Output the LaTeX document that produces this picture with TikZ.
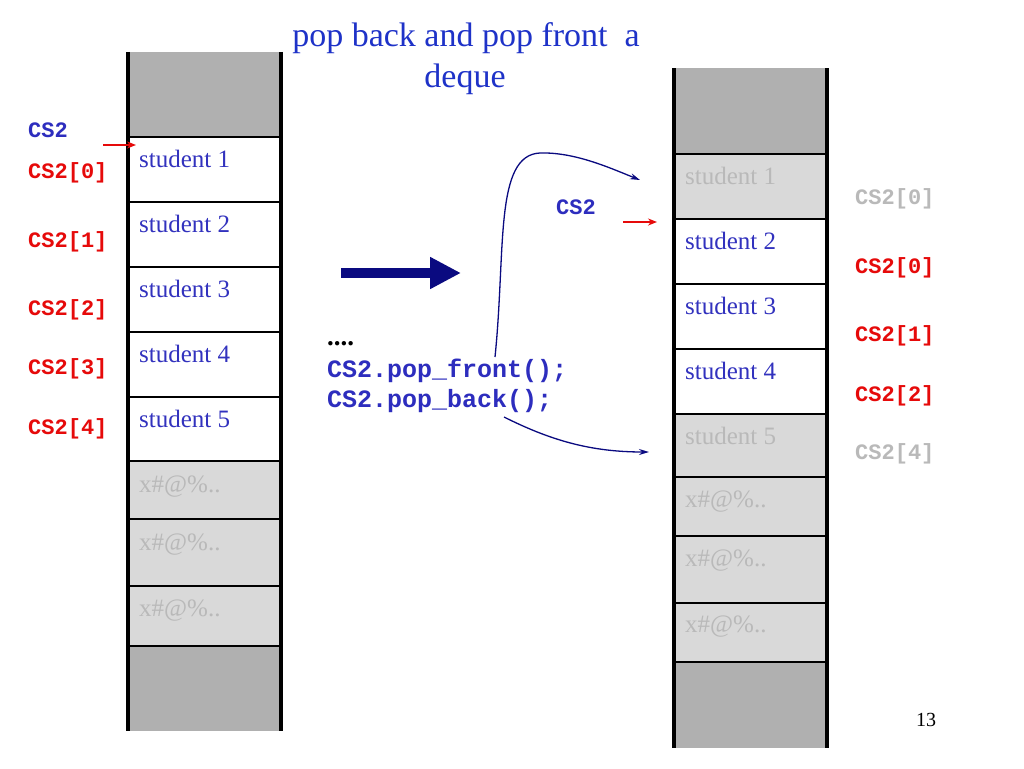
\documentclass[tikz,border=0pt]{standalone}
\usepackage{fontspec}
\setmainfont{Liberation Serif}
\newfontfamily\monofont{Liberation Mono}
\usetikzlibrary{arrows.meta}
\definecolor{titleblue}{RGB}{30,50,200}
\definecolor{textblue}{RGB}{50,50,190}
\definecolor{codeblue}{RGB}{45,45,190}
\definecolor{navy}{RGB}{10,10,128}
\definecolor{ptrred}{RGB}{230,10,10}
\definecolor{dgray}{RGB}{176,176,176}
\definecolor{lgray}{RGB}{217,217,217}
\definecolor{ghost}{RGB}{185,185,185}
\begin{document}
\begin{tikzpicture}[x=1pt,y=-1pt,
  cellbox/.style={anchor=north west, minimum width=153pt, inner sep=0pt, outer sep=0pt},
  celltext/.style={anchor=base west, inner sep=0pt, font=\fontsize{25}{30}\selectfont},
  idxlabel/.style={anchor=base west, inner sep=0pt, font=\monofont\bfseries\fontsize{22}{26}\selectfont},
  codetext/.style={anchor=base west, inner sep=0pt, text=codeblue, font=\monofont\bfseries\fontsize{25}{30}\selectfont},
  sepline/.style={line width=1.8pt, black},
  wall/.style={line width=3.5pt, black},
  ptr/.style={ptrred, line width=2pt, -{Stealth[length=9pt,width=7pt]}},
  popcurve/.style={navy, line width=1.3pt, -{Stealth[length=10pt,width=6pt]}}]
\fill[white] (0,0) rectangle (1024,768);
\useasboundingbox (0,0) rectangle (1024,768);

% left column
\foreach \n/\t/\b/\c in {0/52/137/dgray,1/137/202/white,2/202/267/white,3/267/332/white,4/332/397/white,5/397/461/white,6/461/519/lgray,7/519/586/lgray,8/586/646/lgray,9/646/731/dgray}
  {\node[cellbox, fill=\c, minimum height={\b-\t}] (L\n) at (128,\t) {};}
\foreach \n in {0,...,8} {\draw[sepline] (L\n.south west) -- (L\n.south east);}
\draw[wall] (L0.north west) -- (L9.south west);
\draw[wall] (L0.north east) -- (L9.south east);

% right column
\foreach \n/\t/\b/\c in {0/68/154/dgray,1/154/219/lgray,2/219/284/white,3/284/349/white,4/349/414/white,5/414/477/lgray,6/477/536/lgray,7/536/603/lgray,8/603/662/lgray,9/662/748/dgray}
  {\node[cellbox, fill=\c, minimum height={\b-\t}] (R\n) at (674,\t) {};}
\foreach \n in {0,...,8} {\draw[sepline] (R\n.south west) -- (R\n.south east);}
\draw[wall] (R0.north west) -- (R9.south west);
\draw[wall] (R0.north east) -- (R9.south east);

% left cell texts
\node[celltext, text=textblue] (Lt1) at (139,167) {student 1};
\node[celltext, text=textblue] (Lt2) at (139,232) {student 2};
\node[celltext, text=textblue] (Lt3) at (139,297) {student 3};
\node[celltext, text=textblue] (Lt4) at (139,362) {student 4};
\node[celltext, text=textblue] (Lt5) at (139,427) {student 5};
\node[celltext, text=ghost] (Lt6) at (139,492) {x\#@\%..};
\node[celltext, text=ghost] (Lt7) at (139,550) {x\#@\%..};
\node[celltext, text=ghost] (Lt8) at (139,616) {x\#@\%..};

% right cell texts
\node[celltext, text=ghost] (Rt1) at (685,184) {student 1};
\node[celltext, text=textblue] (Rt2) at (685,249) {student 2};
\node[celltext, text=textblue] (Rt3) at (685,314) {student 3};
\node[celltext, text=textblue] (Rt4) at (685,379) {student 4};
\node[celltext, text=ghost] (Rt5) at (685,444) {student 5};
\node[celltext, text=ghost] (Rt6) at (685,507) {x\#@\%..};
\node[celltext, text=ghost] (Rt7) at (685,566) {x\#@\%..};
\node[celltext, text=ghost] (Rt8) at (685,632) {x\#@\%..};

% left labels
\node[idxlabel, text=codeblue] (lcs) at (28,137) {CS2};
\node[idxlabel, text=ptrred] (li0) at (28,178) {CS2[0]};
\node[idxlabel, text=ptrred] (li1) at (28,247) {CS2[1]};
\node[idxlabel, text=ptrred] (li2) at (28,315) {CS2[2]};
\node[idxlabel, text=ptrred] (li3) at (28,374) {CS2[3]};
\node[idxlabel, text=ptrred] (li4) at (28,434) {CS2[4]};

% right labels
\node[idxlabel, text=ghost] (ri0g) at (855,204) {CS2[0]};
\node[idxlabel, text=ptrred] (ri0) at (855,273) {CS2[0]};
\node[idxlabel, text=ptrred] (ri1) at (855,341) {CS2[1]};
\node[idxlabel, text=ptrred] (ri2) at (855,401) {CS2[2]};
\node[idxlabel, text=ghost] (ri4g) at (855,459) {CS2[4]};
\node[idxlabel, text=codeblue] (mcs) at (556,214) {CS2};

% pointer arrows
\coordinate (p1s) at (103,145);
\coordinate (p1e) at (136,145);
\draw[ptr] (p1s) -- (p1e);
\coordinate (p2s) at (623,222);
\coordinate (p2e) at (657,222);
\draw[ptr] (p2s) -- (p2e);

% title
\node[anchor=base, inner sep=0pt, text=titleblue, font=\fontsize{34}{40}\selectfont] (title1) at (466,47) {pop back and pop front\ \ a};
\node[anchor=base, inner sep=0pt, text=titleblue, font=\fontsize{34}{40}\selectfont] (title2) at (465,87) {deque};

% big arrow
\coordinate (bas) at (341,273);
\coordinate (bae) at (461,273);
\draw[navy, line width=10pt, -{Triangle[length=31pt,width=30pt]}] (bas) -- (bae);

% code
\node[anchor=base west, inner sep=0pt, font=\bfseries\fontsize{27}{30}\selectfont] (dots) at (327,345) {....};
\node[codetext] (front) at (327,377) {CS2.pop\_front();};
\node[codetext] (back) at (327,407) {CS2.pop\_back();};

% curved arrows
\coordinate (cfs) at (495,357);
\coordinate (cfe) at (640,180);
\draw[popcurve] (cfs) .. controls (506,250) and (494,155) .. (540,153) .. controls (575,152) and (610,168) .. (cfe);
\coordinate (cbs) at (504,417);
\coordinate (cbe) at (649,452);
\draw[popcurve] (cbs) .. controls (550,440) and (590,452) .. (cbe);

% page number
\node[anchor=base, inner sep=0pt, font=\fontsize{20}{24}\selectfont] (pgnum) at (926,726) {13};
\end{tikzpicture}
\end{document}
